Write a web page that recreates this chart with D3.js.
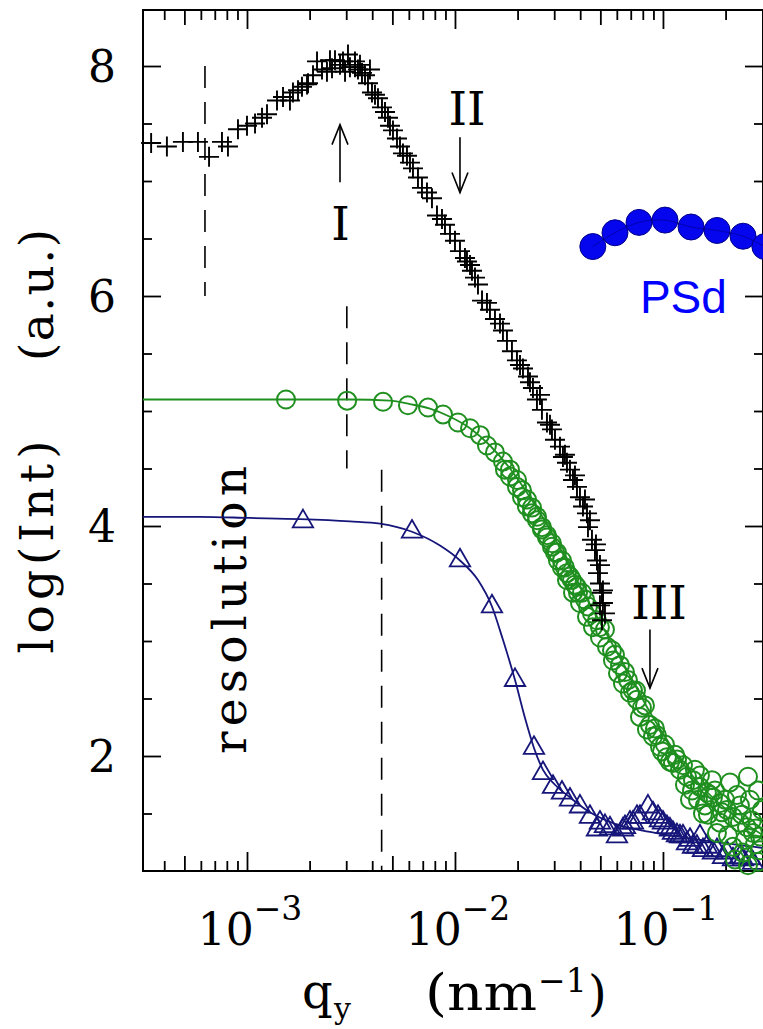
<!DOCTYPE html>
<html><head><meta charset="utf-8">
<script src="https://cdn.jsdelivr.net/npm/d3@7"></script>
<style>html,body{margin:0;padding:0;background:#fff;overflow:hidden}svg{display:block}</style>
</head><body>
<svg id="chart" width="763" height="1029"></svg>
<script>
// ---------------- data (q in nm^-1, value = log(Int)) ----------------
const blackQ = [3.46e-4,4.12e-4,4.92e-4,5.81e-4,6.57e-4,7.58e-4,8.10e-4,9.05e-4,1.00e-3,1.093e-3,1.181e-3,1.248e-3,1.394e-3,1.490e-3,1.609e-3,1.664e-3,1.759e-3,1.838e-3,1.944e-3,1.965e-3,2.077e-3,2.171e-3,2.294e-3,2.424e-3,2.506e-3,2.563e-3,2.649e-3,2.800e-3,2.894e-3,2.96e-3,3.059e-3,3.127e-3,3.305e-3,3.305e-3,3.417e-3,3.494e-3,3.572e-3,3.693e-3,3.817e-3,3.902e-3,3.990e-3,4.125e-3,4.264e-3,4.457e-3,4.608e-3,4.763e-3,4.870e-3,5.034e-3,5.262e-3,5.440e-3,5.623e-3,5.878e-3,6.076e-3,6.282e-3,6.639e-3,6.939e-3,7.334e-3,7.752e-3,8.193e-3,8.660e-3,8.952e-3,9.463e-3,1.000e-2,1.057e-2,1.117e-2,1.142e-2,1.181e-2,1.207e-2,1.248e-2,1.290e-2,1.349e-2,1.425e-2,1.473e-2,1.557e-2,1.646e-2,1.701e-2,1.778e-2,1.879e-2,1.986e-2,2.054e-2,2.123e-2,2.244e-2,2.294e-2,2.371e-2,2.478e-2,2.563e-2,2.619e-2,2.769e-2,2.863e-2,2.926e-2,3.026e-2,3.198e-2,3.305e-2,3.378e-2,3.455e-2,3.572e-2,3.693e-2,3.775e-2,3.860e-2,3.990e-2,4.125e-2,4.217e-2,4.312e-2,4.360e-2,4.457e-2,4.557e-2,4.711e-2,4.763e-2,4.816e-2,4.870e-2,4.979e-2,4.979e-2,5.090e-2,5.146e-2,5.146e-2,4.979e-2,5.262e-2,5.090e-2];
const blackLogI = [7.33,7.30,7.34,7.34,7.21,7.34,7.30,7.45,7.48,7.50,7.55,7.58,7.70,7.73,7.70,7.77,7.79,7.82,7.84,7.85,7.92,8.04,7.97,7.95,8.05,7.98,8.05,8.01,8.04,7.95,8.10,7.99,7.99,8.04,7.97,8.01,7.94,7.92,7.85,7.97,7.77,7.75,7.72,7.64,7.60,7.55,7.48,7.44,7.37,7.30,7.24,7.22,7.16,7.11,7.03,6.94,6.90,6.85,6.70,6.67,6.62,6.54,6.48,6.39,6.33,6.30,6.27,6.22,6.16,6.10,5.96,5.94,5.88,5.80,5.76,5.70,5.61,5.52,5.44,5.40,5.37,5.30,5.25,5.20,5.10,5.14,5.01,4.90,4.88,4.84,4.75,4.69,4.60,4.62,4.55,4.49,4.40,4.44,4.34,4.25,4.17,4.23,4.11,3.99,4.05,3.88,3.79,3.84,3.70,3.59,3.50,3.66,3.42,3.33,3.44,3.31,3.24,3.18];

const greenQ = [1.54e-3,3.03e-3,4.51e-3,5.94e-3,7.42e-3,8.76e-3,1.034e-2,1.181e-2,1.319e-2,1.425e-2,1.557e-2,1.701e-2,1.739e-2,1.838e-2,1.838e-2,1.987e-2,1.987e-2,2.100e-2,2.100e-2,2.219e-2,2.219e-2,2.345e-2,2.345e-2,2.479e-2,2.479e-2,2.619e-2,2.619e-2,2.769e-2,2.769e-2,2.926e-2,2.926e-2,3.026e-2,3.093e-2,3.127e-2,3.268e-2,3.268e-2,3.378e-2,3.455e-2,3.455e-2,3.572e-2,3.652e-2,3.693e-2,3.775e-2,3.860e-2,3.903e-2,3.990e-2,4.079e-2,4.217e-2,4.312e-2,4.360e-2,4.557e-2,4.608e-2,4.816e-2,4.979e-2,4.979e-2,5.262e-2,5.380e-2,5.686e-2,5.749e-2,6.076e-2,6.213e-2,6.422e-2,6.787e-2,6.939e-2,7.418e-2,7.499e-2,7.752e-2,8.193e-2,8.377e-2,8.660e-2,8.952e-2,9.358e-2,9.674e-2,0.1022,0.1045,0.1117,0.1142,0.1207,0.1248,0.1305,0.1349,0.1394,0.1425,0.1506,0.1506,0.1557,0.1592,0.1627,0.1683,0.1720,0.1739,0.1818,0.1879,0.1879,0.1987,0.2031,0.2100,0.2171,0.2171,0.2219,0.2345,0.2345,0.2424,0.2479,0.2534,0.2563,0.2677,0.2708,0.2769,0.2862,0.2862,0.2926,
  5.878e-2,6.567e-2,7.174e-2,7.925e-2,9.153e-2,9.890e-2,0.1081,0.1168,0.1276,0.1379,0.1473,0.1646,0.1778,0.1921,0.2054,0.2269,0.2398,0.2619,0.2799,0.2926,0.2563,0.2992];
const greenLogI = [5.10,5.09,5.08,5.05,5.03,4.97,4.90,4.85,4.79,4.70,4.64,4.56,4.49,4.49,4.43,4.40,4.34,4.31,4.25,4.23,4.17,4.16,4.11,4.08,4.05,3.99,3.97,3.92,3.90,3.85,3.82,3.77,3.77,3.70,3.70,3.64,3.64,3.59,3.53,3.56,3.53,3.42,3.49,3.47,3.42,3.33,3.42,3.36,3.21,3.30,3.24,3.12,3.18,3.12,3.03,3.10,2.95,2.92,2.83,2.72,2.79,2.63,2.66,2.55,2.57,2.49,2.34,2.44,2.23,2.27,2.17,2.18,2.08,2.10,1.99,1.94,2.01,1.88,1.92,1.82,1.62,1.79,1.88,1.73,1.83,1.50,1.57,1.68,1.66,1.79,1.64,1.33,1.59,1.42,1.62,1.53,1.77,1.47,1.21,1.10,1.42,1.57,1.16,1.27,1.38,1.82,1.44,1.33,1.23,1.70,1.08,1.30,
  2.88,2.73,2.57,2.42,2.24,2.04,1.95,1.97,1.75,1.70,1.62,1.49,1.70,1.51,1.31,1.66,1.49,1.62,1.37,1.18,1.05,1.53];

const navyQ = [1.858e-3,6.213e-3,1.057e-2,1.506e-2,1.944e-2,2.398e-2,2.649e-2,2.959e-2,3.268e-2,3.572e-2,3.990e-2,4.457e-2,4.816e-2,4.979e-2,5.262e-2,5.562e-2,6.010e-2,6.422e-2,6.567e-2,6.939e-2,7.174e-2,7.499e-2,7.752e-2,8.470e-2,8.952e-2,9.463e-2,9.674e-2,0.1000,0.1045,0.1081,0.1117,0.1168,0.1207,0.1248,0.1305,0.1349,0.1394,0.1457,0.1506,0.1557,0.1627,0.1739,0.1818,0.1944,0.2031,0.2171,0.2345,0.2424,0.2619,0.2708];
const navyLogI = [4.04,3.95,3.70,3.30,2.66,2.07,1.85,1.73,1.68,1.62,1.56,1.47,1.36,1.42,1.39,1.37,1.30,1.36,1.38,1.42,1.42,1.47,1.47,1.56,1.50,1.47,1.44,1.42,1.38,1.36,1.33,1.31,1.30,1.30,1.24,1.27,1.21,1.21,1.30,1.18,1.21,1.16,1.18,1.12,1.16,1.10,1.12,1.10,1.11,1.07];

const greenFitQ = [3.162e-4,1.034e-3,3.127e-3,4.870e-3,6.076e-3,7.58e-3,9.463e-3,1.181e-2,1.473e-2,1.838e-2,2.294e-2,2.863e-2,3.572e-2,4.457e-2,5.562e-2,6.939e-2,8.660e-2,0.1081,0.1506,0.2100,0.303];
const greenFitLogI = [5.10,5.10,5.10,5.09,5.06,5.02,4.95,4.85,4.70,4.50,4.25,3.97,3.64,3.32,3.01,2.70,2.38,2.10,1.75,1.51,1.31];

const navyFitQ = [3.162e-4,5.94e-4,1.034e-3,1.798e-3,3.127e-3,4.360e-3,6.213e-3,8.470e-3,1.057e-2,1.290e-2,1.506e-2,1.701e-2,1.944e-2,2.171e-2,2.398e-2,2.649e-2,3.026e-2,3.572e-2,4.457e-2,5.878e-2,8.660e-2,0.1506,0.303];
const navyFitLogI = [4.08,4.08,4.07,4.06,4.04,4.02,3.95,3.83,3.70,3.53,3.30,3.01,2.66,2.33,2.07,1.88,1.75,1.64,1.51,1.41,1.34,1.27,1.20];

// chain illustration (PSd) drawn in data coordinates
const chainQ = [0.0460,0.0588,0.0767,0.1023,0.1365,0.182,0.2427,0.309];
const chainLogI = [6.43,6.55,6.64,6.66,6.60,6.57,6.52,6.43];

// resolution markers (vertical dashed lines)
const dashQ = [6.28e-4, 3.02e-3, 4.44e-3];
const dashFrom = [8.0, 5.91, 4.49];
const dashTo = [6.0, 4.50, 1.0];

// annotated arrows
const arrowLabels = ["I","II","III"];
const arrowQ = [2.80e-3, 1.057e-2, 8.66e-2];
const arrowTail = [6.99, 7.38, 3.10];
const arrowHead = [7.49, 6.90, 2.59];
const labelQ = [2.82e-3, 1.142e-2, 9.57e-2];
const labelLogI = [6.49, 7.49, 3.19];

// ticks
const xMajor = [1e-3, 1e-2, 1e-1];
const xExp = ["−3", "−2", "−1"];
const xMid = [5e-4, 5e-3, 5e-2];
const xMinor = [4e-4,6e-4,7e-4,8e-4,9e-4,2e-3,3e-3,4e-3,6e-3,7e-3,8e-3,9e-3,2e-2,3e-2,4e-2,6e-2,7e-2,8e-2,9e-2,0.2];
const yMajor = [2,4,6,8];
const yMinor = [1.5,2.5,3,3.5,4.5,5,5.5,6.5,7,7.5];

// ---------------- drawing ----------------
const svg = d3.select("#chart");
const L = 143, R = 763, T = 10, B = 871;
const x = d3.scaleLog().domain([Math.pow(10,-3.5), Math.pow(10,-0.519)]).range([L, R]);
const y = d3.scaleLinear().domain([1.0, 8.487]).range([B, T]);

const serif = "'DejaVu Serif', serif";
const GREEN = "#1f8f1f", NAVY = "#16167a";

function tickAxis(axis, g) {
  g.call(axis);
  g.select(".domain").remove();
  g.selectAll("text").remove();
  g.selectAll("line").attr("stroke", "#000").attr("stroke-width", 1.8);
}
[[xMajor,19],[xMid,15],[xMinor,10]].forEach(([vals,len]) => {
  tickAxis(d3.axisBottom(x).tickValues(vals).tickSize(-len), svg.append("g").attr("transform", `translate(0,${B})`));
  tickAxis(d3.axisTop(x).tickValues(vals).tickSize(-len), svg.append("g").attr("transform", `translate(0,${T})`));
});
[[yMajor,18],[yMinor,9]].forEach(([vals,len]) => {
  tickAxis(d3.axisLeft(y).tickValues(vals).tickSize(-len), svg.append("g").attr("transform", `translate(${L},0)`));
  tickAxis(d3.axisRight(y).tickValues(vals).tickSize(-len), svg.append("g").attr("transform", `translate(${R},0)`));
});
svg.append("rect").attr("x", L).attr("y", T).attr("width", R - L).attr("height", B - T)
  .attr("fill", "none").attr("stroke", "#000").attr("stroke-width", 2);

// y tick labels
svg.append("g").selectAll("text").data(yMajor).join("text")
  .attr("x", 116).attr("y", d => y(d) + 16).attr("text-anchor", "end")
  .attr("font-family", serif).attr("font-size", 44).text(d => d);

// x tick labels 10^n
const xl = svg.append("g").selectAll("text").data(xMajor).join("text")
  .attr("x", d => x(d) + 3).attr("y", 945).attr("text-anchor", "middle")
  .attr("font-family", serif).attr("font-size", 44);
xl.append("tspan").text("10");
xl.append("tspan").attr("font-size", 33).attr("dy", -25).text((d, i) => xExp[i]);

// axis titles
svg.append("text").attr("transform", "translate(53,547) rotate(-90)").attr("text-anchor", "middle")
  .attr("font-family", serif).attr("font-size", 47).attr("textLength", 213).attr("lengthAdjust", "spacing").text("log(Int)");
svg.append("text").attr("transform", "translate(53,295) rotate(-90)").attr("text-anchor", "middle")
  .attr("font-family", serif).attr("font-size", 47).attr("textLength", 132).attr("lengthAdjust", "spacing").text("(a.u.)");
svg.append("text").attr("x", 302).attr("y", 1008).attr("font-family", serif).attr("font-size", 48).text("q");
svg.append("text").attr("x", 334).attr("y", 1019).attr("font-family", serif).attr("font-size", 30).text("y");
svg.append("text").attr("x", 425).attr("y", 1010).attr("font-family", serif).attr("font-size", 50)
  .attr("textLength", 112).attr("lengthAdjust", "spacingAndGlyphs").text("(nm");
svg.append("text").attr("x", 538).attr("y", 992).attr("font-family", serif).attr("font-size", 33).text("−1");
svg.append("text").attr("x", 588).attr("y", 1010).attr("font-family", serif).attr("font-size", 48).text(")");

// resolution label
svg.append("text").attr("transform", "translate(246,610) rotate(-90)").attr("text-anchor", "middle")
  .attr("font-family", serif).attr("font-size", 47).attr("textLength", 288).attr("lengthAdjust", "spacing").text("resolution");

// dashed resolution lines
svg.append("g").selectAll("line").data(dashQ).join("line")
  .attr("x1", d => x(d)).attr("x2", d => x(d))
  .attr("y1", (d, i) => y(dashFrom[i])).attr("y2", (d, i) => y(dashTo[i]))
  .attr("stroke", "#000").attr("stroke-width", 1.6).attr("stroke-dasharray", "22,14");

// fit lines
const line = d3.line().x(d => x(d[0])).y(d => y(d[1])).curve(d3.curveMonotoneX);
svg.append("path").datum(greenFitQ.map((q, i) => [q, greenFitLogI[i]])).attr("d", line)
  .attr("fill", "none").attr("stroke", GREEN).attr("stroke-width", 1.8);
svg.append("path").datum(navyFitQ.map((q, i) => [q, navyFitLogI[i]])).attr("d", line)
  .attr("fill", "none").attr("stroke", NAVY).attr("stroke-width", 1.8);

// navy triangles
const tri = d3.symbol().type(d3.symbolTriangle).size(180);
svg.append("g").selectAll("path").data(navyQ.map((q, i) => [q, navyLogI[i]])).join("path")
  .attr("d", tri).attr("transform", d => `translate(${x(d[0])},${y(d[1])})`)
  .attr("fill", "none").attr("stroke", NAVY).attr("stroke-width", 1.8);

// green circles
svg.append("g").selectAll("circle").data(greenQ.map((q, i) => [q, greenLogI[i]])).join("circle")
  .attr("cx", d => x(d[0])).attr("cy", d => y(d[1])).attr("r", 9)
  .attr("fill", "none").attr("stroke", GREEN).attr("stroke-width", 2);

// black crosses
svg.append("g").selectAll("path").data(blackQ.map((q, i) => [q, blackLogI[i]])).join("path")
  .attr("d", "M-10,0H10M0,-10V10").attr("transform", d => `translate(${x(d[0])},${y(d[1])})`)
  .attr("fill", "none").attr("stroke", "#000").attr("stroke-width", 1.9);

// arrows and labels
const ar = svg.append("g");
arrowQ.forEach((q, i) => {
  const px = x(q), y0 = y(arrowTail[i]), y1 = y(arrowHead[i]);
  const dir = y1 < y0 ? 1 : -1;
  ar.append("line").attr("x1", px).attr("x2", px).attr("y1", y0).attr("y2", y1)
    .attr("stroke", "#000").attr("stroke-width", 1.6);
  ar.append("path").attr("d", `M${px - 8},${y1 + dir * 20}L${px},${y1}L${px + 8},${y1 + dir * 20}`)
    .attr("fill", "none").attr("stroke", "#000").attr("stroke-width", 1.6);
  ar.append("text").attr("x", x(labelQ[i])).attr("y", y(labelLogI[i])).attr("text-anchor", "middle")
    .attr("font-family", serif).attr("font-size", 47).text(arrowLabels[i]);
});

// PSd chain illustration
const chain = chainQ.map((q, i) => [q, chainLogI[i]]);
svg.append("g").selectAll("circle").data(chain).join("circle")
  .attr("cx", d => x(d[0])).attr("cy", d => y(d[1])).attr("r", 13)
  .attr("fill", "#0505ee").attr("stroke", "#00008a").attr("stroke-width", 1);
svg.append("path").datum(chain).attr("d", d3.line().x(d => x(d[0])).y(d => y(d[1])).curve(d3.curveCatmullRom))
  .attr("fill", "none").attr("stroke", "#000066").attr("stroke-width", 0.8).attr("opacity", 0.6);
svg.append("text").attr("x", x(0.0775)).attr("y", y(5.85)).attr("font-family", "'Liberation Sans', Arial, sans-serif")
  .attr("font-size", 46).attr("fill", "#0000ff").text("PSd");
</script>
</body></html>
